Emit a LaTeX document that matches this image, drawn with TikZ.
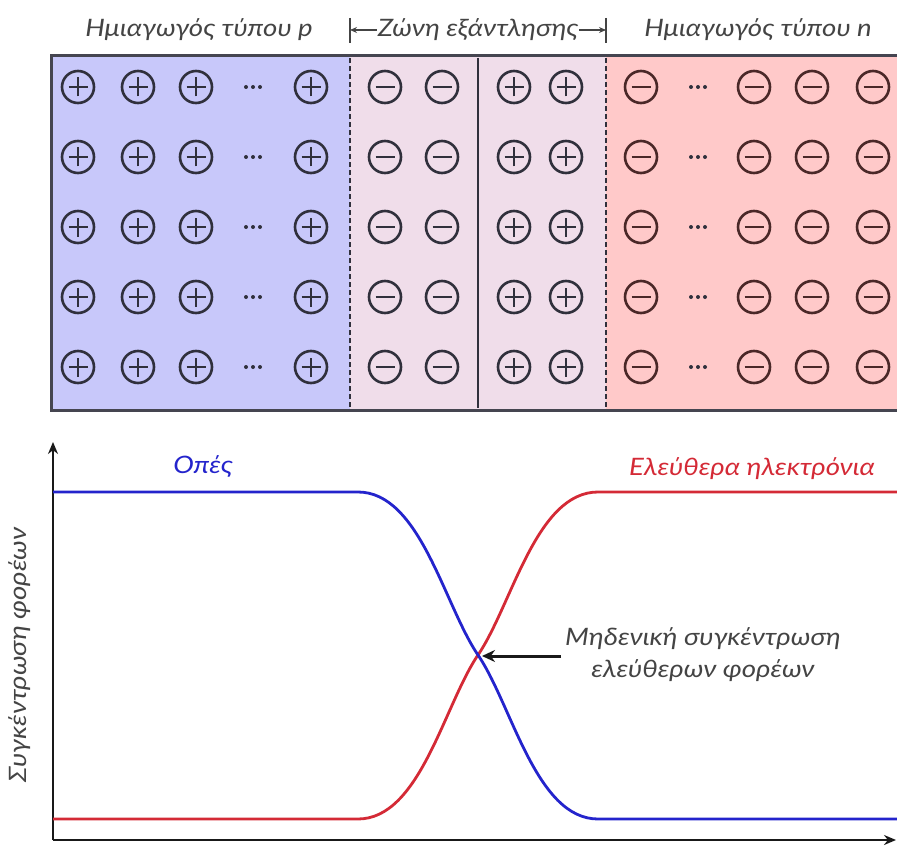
\documentclass[tikz,border=0pt]{standalone}
\usepackage{fontspec}
\setmainfont{Lato}[FakeStretch=1.15]
\usetikzlibrary{arrows.meta}
\definecolor{bluefill}{HTML}{C8C8FA}
\definecolor{pinkfill}{HTML}{F0DDEA}
\definecolor{redfill}{HTML}{FFC9C9}
\definecolor{bluecurve}{HTML}{2424CC}
\definecolor{redcurve}{HTML}{D42A36}
\definecolor{inkc}{HTML}{30303C}
\definecolor{inkn}{HTML}{4A2828}
\definecolor{labelc}{HTML}{444444}
\tikzset{
  ion/.style={circle,draw=#1,line width=2.6pt,minimum size=32pt,inner sep=0pt},
  plusion/.style={ion=inkc,path picture={\draw[inkc,line width=2.4pt]
      ([xshift=-9.5pt]path picture bounding box.center) -- ([xshift=9.5pt]path picture bounding box.center)
      ([yshift=-9.5pt]path picture bounding box.center) -- ([yshift=9.5pt]path picture bounding box.center);}},
  minusion/.style={ion=#1,path picture={\draw[#1,line width=2.4pt]
      ([xshift=-9.5pt]path picture bounding box.center) -- ([xshift=9.5pt]path picture bounding box.center);}},
  dotsym/.style={inner sep=0pt,minimum size=1pt,
      path picture={\fill[inkc] ([xshift=-7pt]path picture bounding box.center) circle (2pt)
         (path picture bounding box.center) circle (2pt)
         ([xshift=7pt]path picture bounding box.center) circle (2pt);},
      minimum width=20pt,minimum height=6pt},
  toplabel/.style={font=\fontsize{24}{32}\selectfont\itshape,text=labelc},
  curvelabel/.style={font=\fontsize{24}{28}\selectfont\itshape},
  border/.style={draw=inkc!90,line width=3pt},
  axisline/.style={draw=black!90,line width=2.6pt},
  curve/.style={line width=2.8pt},
}
\begin{document}
\begin{tikzpicture}[x=1pt,y=-1pt]
\useasboundingbox (0,0) rectangle (897,848);
% regions
\fill[bluefill] (51,56) rectangle (350,410);
\fill[pinkfill] (350,56) rectangle (606,410);
\fill[redfill] (606,56) rectangle (899,410);
\draw[inkc,line width=1.4pt,dashed,dash pattern=on 5pt off 3pt] (350,58) -- (350,408);
\draw[inkc,line width=1.4pt,dashed,dash pattern=on 5pt off 3pt] (606,58) -- (606,408);
\draw[inkc,line width=1.6pt] (478,58) -- (478,408);
\draw[border] (899,56) -- (51,56) -- (51,410) -- (899,410);
% ions
\foreach \y [count=\r] in {87,157,227,297,367}{
  \foreach \x [count=\c] in {78,138,196,311}{\node[plusion] (p\r-\c) at (\x,\y) {};}
  \node[dotsym] (pd\r) at (253,\y) {};
  \foreach \x [count=\c] in {385,442}{\node[minusion=inkc] (dm\r-\c) at (\x,\y) {};}
  \foreach \x [count=\c] in {514,566}{\node[plusion] (dp\r-\c) at (\x,\y) {};}
  \foreach \x [count=\c] in {641,754,812,873}{\node[minusion=inkn] (n\r-\c) at (\x,\y) {};}
  \node[dotsym] (nd\r) at (698,\y) {};
}
% top labels
\node[toplabel] (lp) at (199,30) {Ημιαγωγός τύπου p};
\node[toplabel] (ln) at (758,30) {Ημιαγωγός τύπου n};
\node[toplabel,inner sep=1pt] (lz) at (478,30) {Ζώνη εξάντλησης};
\coordinate (zl) at (350,30);
\coordinate (zr) at (606,30);
\draw[labelc,line width=1.3pt] (350,18) -- (350,43);
\draw[labelc,line width=1.3pt] (606,18) -- (606,43);
\draw[labelc,line width=1.6pt,-{Stealth[length=7pt,width=6pt]}] (lz.west) -- (zl);
\draw[labelc,line width=1.6pt,-{Stealth[length=7pt,width=6pt]}] (lz.east) -- (zr);
% axes
\coordinate (o) at (53,840);
\coordinate (ytip) at (53,442);
\coordinate (xtip) at (896,840);
\draw[axisline,-{Stealth[length=12pt,width=10pt]}] (o) -- (ytip);
\draw[axisline,-{Stealth[length=12pt,width=10pt]}] (o) -- (xtip);
\node[toplabel,rotate=90] (ylab) at (20,655) {Συγκέντρωση φορέων};
% curves
\coordinate (cross) at (478,655);
\draw[curve,redcurve] (53,819) -- (358,819) .. controls (420,819) and (444,705) .. (cross)
   .. controls (512,605) and (536,492) .. (598,492) -- (899,492);
\draw[curve,bluecurve] (53,492) -- (358,492) .. controls (420,492) and (444,605) .. (cross)
   .. controls (512,705) and (536,819) .. (598,819) -- (899,819);
\node[curvelabel,text=bluecurve] (holes) at (203,467) {Οπές};
\node[curvelabel,text=redcurve] (elec) at (752,469) {Ελεύθερα ηλεκτρόνια};
% annotation
\node[toplabel,align=center] (ann) at (703,655) {Μηδενική συγκέντρωση\\ελεύθερων φορέων};
\coordinate (annstart) at (561,656);
\draw[black!90,line width=3pt,-{Stealth[length=13pt,width=12pt]}] (annstart) -- (482,656);
\end{tikzpicture}
\end{document}
